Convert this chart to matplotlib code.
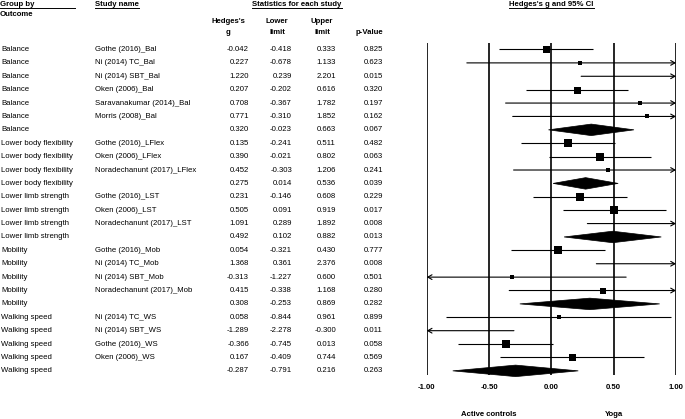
import numpy as np
import matplotlib.pyplot as plt
from matplotlib.lines import Line2D
from matplotlib.patches import Polygon

plt.rcParams['font.family'] = ['Liberation Sans', 'DejaVu Sans']

outcome = ["Balance"] * 7 + ["Lower body flexibility"] * 4 + ["Lower limb strength"] * 4 \
    + ["Mobility"] * 5 + ["Walking speed"] * 5
study = ["Gothe (2016)_Bal", "Ni (2014) TC_Bal", "Ni (2014) SBT_Bal", "Oken (2006)_Bal",
         "Saravanakumar (2014)_Bal", "Morris (2008)_Bal", "",
         "Gothe (2016)_LFlex", "Oken (2006)_LFlex", "Noradechanunt (2017)_LFlex", "",
         "Gothe (2016)_LST", "Oken (2006)_LST", "Noradechanunt (2017)_LST", "",
         "Gothe (2016)_Mob", "Ni (2014) TC_Mob", "Ni (2014) SBT_Mob", "Noradechanunt (2017)_Mob", "",
         "Ni (2014) TC_WS", "Ni (2014) SBT_WS", "Gothe (2016)_WS", "Oken (2006)_WS", ""]
g = [-0.042, 0.227, 1.220, 0.207, 0.708, 0.771, 0.320,
     0.135, 0.390, 0.452, 0.275,
     0.231, 0.505, 1.091, 0.492,
     0.054, 1.368, -0.313, 0.415, 0.308,
     0.058, -1.289, -0.366, 0.167, -0.287]
lower = [-0.418, -0.678, 0.239, -0.202, -0.367, -0.310, -0.023,
         -0.241, -0.021, -0.303, 0.014,
         -0.146, 0.091, 0.289, 0.102,
         -0.321, 0.361, -1.227, -0.338, -0.253,
         -0.844, -2.278, -0.745, -0.409, -0.791]
upper = [0.333, 1.133, 2.201, 0.616, 1.782, 1.852, 0.663,
         0.511, 0.802, 1.206, 0.536,
         0.608, 0.919, 1.892, 0.882,
         0.430, 2.376, 0.600, 1.168, 0.869,
         0.961, -0.300, 0.013, 0.744, 0.216]
pval = [0.825, 0.623, 0.015, 0.320, 0.197, 0.162, 0.067,
        0.482, 0.063, 0.241, 0.039,
        0.229, 0.017, 0.008, 0.013,
        0.777, 0.008, 0.501, 0.280, 0.282,
        0.899, 0.011, 0.058, 0.569, 0.263]
# square size (pixels) ~ study weight
box_px = [7, 4, 4, 7, 3.5, 3.5, 0,
          8, 7.5, 4, 0,
          8, 8, 4, 0,
          7.5, 4, 5, 6.5, 0,
          5, 4, 7.5, 7, 0]
ticks = [-1.0, -0.5, 0.0, 0.5, 1.0]

W, H = 685, 419
row0, dy = 49.5, 13.39
n = len(g)
fs = 5.6

fig = plt.figure(figsize=(W / 100, H / 100), dpi=100)
ax_t = fig.add_axes([0, 0, 1, 1])
ax_t.set_xlim(0, W)
ax_t.set_ylim(H, 0)
ax_t.axis('off')

ax = fig.add_axes([426.7 / W, 0, (676 - 426.7) / W, 1])
ax.set_xlim(-1, 1)
ax.set_ylim((H - row0) / dy, -row0 / dy)
ax.axis('off')

# headers
hdr = dict(fontsize=fs, fontweight='bold', va='center')
t_group = ax_t.text(0, 4.5, "Group by", ha='left', **hdr)
ax_t.text(0, 14.5, "Outcome", ha='left', **hdr)
t_study = ax_t.text(95, 4.5, "Study name", ha='left', **hdr)
t_stats = ax_t.text(297, 4.5, "Statistics for each study", ha='center', **hdr)
ax_t.text(228, 21.5, "Hedges's", ha='center', **hdr)
ax_t.text(228, 32.5, "g", ha='center', **hdr)
ax_t.text(277, 21.5, "Lower", ha='center', **hdr)
ax_t.text(277, 32.5, "limit", ha='center', **hdr)
ax_t.text(322, 21.5, "Upper", ha='center', **hdr)
ax_t.text(322, 32.5, "limit", ha='center', **hdr)
ax_t.text(369, 32.5, "p-Value", ha='center', **hdr)
t_title = ax.text(0, (4.5 - row0) / dy, "Hedges's g and 95% CI", ha='center', **hdr)

# table rows
for i in range(n):
    y = row0 + i * dy
    ax_t.text(1, y, outcome[i], ha='left', va='center', fontsize=fs)
    ax_t.text(95, y, study[i], ha='left', va='center', fontsize=fs)
    ax_t.text(249, y, f"{g[i]:.3f}", ha='right', va='center', fontsize=fs)
    ax_t.text(292, y, f"{lower[i]:.3f}", ha='right', va='center', fontsize=fs)
    ax_t.text(336, y, f"{upper[i]:.3f}", ha='right', va='center', fontsize=fs)
    ax_t.text(383, y, f"{pval[i]:.3f}", ha='right', va='center', fontsize=fs)

# forest plot
ax.vlines(ticks, (43.3 - row0) / dy, (375 - row0) / dy, color='black', lw=1.2)
for i in range(n):
    lo, hi, est = lower[i], upper[i], g[i]
    if study[i] == "":
        d = 0.43
        ax.add_patch(Polygon([(lo, i), (est, i - d), (hi, i), (est, i + d)],
                             closed=True, facecolor='black', edgecolor='black', lw=0.5))
        continue
    aprops = dict(arrowstyle='->, head_length=0.3, head_width=0.17', lw=0.8,
                  color='black', shrinkA=0, shrinkB=0, mutation_scale=10)
    if hi > 1:
        ax.annotate('', xy=(1, i), xytext=(max(lo, -1), i), arrowprops=aprops,
                    annotation_clip=False)
    elif lo < -1:
        ax.annotate('', xy=(-1, i), xytext=(hi, i), arrowprops=aprops,
                    annotation_clip=False)
    else:
        ax.hlines(i, lo, hi, color='black', lw=0.8)
    if -1 <= est <= 1:
        ax.plot(est, i, 's', color='black', ms=box_px[i] * 0.72, mew=0, clip_on=False)

ylab = (387 - row0) / dy
for t in ticks:
    ax.text(t, ylab, f"{t:.2f}", ha='center', va='center', fontsize=fs, fontweight='bold')
ax.text(-0.5, (414 - row0) / dy, "Active controls", ha='center', **hdr)
ax.text(0.5, (414 - row0) / dy, "Yoga", ha='center', **hdr)

# underlines
fig.canvas.draw()
r = fig.canvas.get_renderer()
for t, x1 in [(t_group, 75), (t_study, None), (t_stats, None), (t_title, None)]:
    bb = t.get_window_extent(r)
    x0 = bb.x0
    xe = bb.x1 if x1 is None else x1
    yl = bb.y0 - 0.5
    fig.add_artist(Line2D([x0 / W, xe / W], [yl / H, yl / H], color='black', lw=0.7,
                          transform=fig.transFigure))

fig.savefig('out.png', dpi=100)
